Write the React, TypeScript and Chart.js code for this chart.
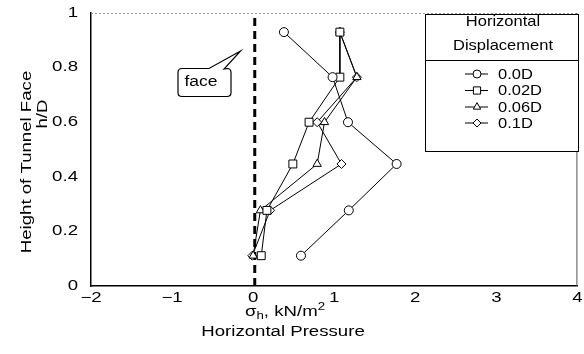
import React, { useEffect, useRef } from 'react';
import { Chart, registerables } from 'chart.js';

Chart.register(...registerables);

// ---- data ----
const hLevels = [0.93, 0.765, 0.6, 0.447, 0.277, 0.111];
const disp00 = [0.38, 0.98, 1.17, 1.77, 1.18, 0.59];
const disp002 = [1.07, 1.07, 0.69, 0.49, 0.17, 0.1];
const disp006 = [1.07, 1.28, 0.88, 0.79, 0.09, 0.0];
const disp01 = [1.07, 1.28, 0.79, 1.09, 0.21, -0.01];
const seriesLabels = ['0.0D', '0.02D', '0.06D', '0.1D'];
const seriesStyles = ['circle', 'rect', 'triangle', 'rectRot'];
const seriesRadius = [4.5, 5.6, 4.8, 4.5];
const faceX = [0.02, 0.02];
const faceY = [0, 1];
const xTickValues = [-2, -1, 0, 1, 2, 3, 4];
const yTickValues = [0, 0.2, 0.4, 0.6, 0.8, 1];
const legendTitle = ['Horizontal', 'Displacement'];
const yTitle = ['Height of Tunnel Face', 'h/D'];
const xTitle2 = 'Horizontal Pressure';
const calloutText = 'face';

const FONT = "'Liberation Sans', Arial, Helvetica, sans-serif";
const SX = 1.33;

function txt(ctx: CanvasRenderingContext2D, s: string, x: number, y: number, size: number, align: CanvasTextAlign, sx = SX) {
  ctx.save();
  ctx.translate(x, y);
  ctx.scale(sx, 1);
  ctx.font = `${size}px ${FONT}`;
  ctx.fillStyle = '#000';
  ctx.textAlign = align;
  ctx.textBaseline = 'middle';
  ctx.fillText(s, 0, 0);
  ctx.restore();
}

function vtxt(ctx: CanvasRenderingContext2D, s: string, x: number, y: number, size: number, sx = SX) {
  ctx.save();
  ctx.translate(x, y);
  ctx.rotate(-Math.PI / 2);
  ctx.scale(sx, 1);
  ctx.font = `${size}px ${FONT}`;
  ctx.fillStyle = '#000';
  ctx.textAlign = 'center';
  ctx.textBaseline = 'middle';
  ctx.fillText(s, 0, 0);
  ctx.restore();
}

function marker(ctx: CanvasRenderingContext2D, style: string, x: number, y: number, r: number) {
  ctx.save();
  ctx.beginPath();
  if (style === 'circle') {
    ctx.arc(x, y, r, 0, Math.PI * 2);
  } else if (style === 'rect') {
    const s = r * Math.SQRT1_2;
    ctx.rect(x - s, y - s, 2 * s, 2 * s);
  } else if (style === 'triangle') {
    ctx.moveTo(x, y - r);
    ctx.lineTo(x + r * 0.866, y + r * 0.5);
    ctx.lineTo(x - r * 0.866, y + r * 0.5);
    ctx.closePath();
  } else {
    ctx.moveTo(x, y - r);
    ctx.lineTo(x + r, y);
    ctx.lineTo(x, y + r);
    ctx.lineTo(x - r, y);
    ctx.closePath();
  }
  ctx.fillStyle = '#fff';
  ctx.fill();
  ctx.strokeStyle = '#000';
  ctx.lineWidth = 1;
  ctx.stroke();
  ctx.restore();
}

const decorPlugin = {
  id: 'decor',
  beforeDatasetsDraw(chart: any) {
    const ctx: CanvasRenderingContext2D = chart.ctx;
    const { left, right, top, bottom } = chart.chartArea;
    ctx.save();
    // faint top / right frame
    ctx.strokeStyle = '#9a9a9a';
    ctx.lineWidth = 1;
    ctx.setLineDash([2, 2]);
    ctx.beginPath();
    ctx.moveTo(left, top + 0.5);
    ctx.lineTo(right, top + 0.5);
    ctx.stroke();
    ctx.setLineDash([]);
    ctx.strokeStyle = '#555';
    ctx.beginPath();
    ctx.moveTo(right - 0.5, top);
    ctx.lineTo(right - 0.5, bottom);
    ctx.stroke();
    ctx.restore();
  },
  afterDraw(chart: any) {
    const ctx: CanvasRenderingContext2D = chart.ctx;
    const xs = chart.scales.x;
    const ys = chart.scales.y;
    // tick labels
    xs.ticks.forEach((t: any) => {
      const v = t.value;
      const s = v < 0 ? '\u2212' + Math.abs(v) : String(v);
      txt(ctx, s, xs.getPixelForValue(v), 298, 14, 'center');
    });
    ys.ticks.forEach((t: any) => {
      const v = t.value;
      const s = String(Math.round(v * 10) / 10);
      txt(ctx, s, 78, ys.getPixelForValue(v), 14, 'right');
    });
    // y title
    vtxt(ctx, yTitle[0], 27, 162, 14);
    vtxt(ctx, yTitle[1], 43, 114, 14);
    // x title line 1 : sigma_h, kN/m^2
    const pieces: [string, number, number][] = [
      ['\u03C3', 14, 0],
      ['h', 10, 4],
      [', kN/m', 14, 0],
      ['2', 10, -5],
    ];
    let total = 0;
    ctx.save();
    const widths = pieces.map(([s, size]) => {
      ctx.font = `${size}px ${FONT}`;
      const w = ctx.measureText(s).width * SX;
      total += w;
      return w;
    });
    ctx.restore();
    let cx = 285 - total / 2;
    pieces.forEach(([s, size, dy], i) => {
      txt(ctx, s, cx, 312 + dy, size, 'left');
      cx += widths[i];
    });
    txt(ctx, xTitle2, 283, 332, 14, 'center');

    // callout "face"
    ctx.save();
    ctx.fillStyle = '#fff';
    ctx.strokeStyle = '#000';
    ctx.lineWidth = 1.2;
    const bx = 178, by = 68.5, bw = 53, bh = 28, rr = 4;
    ctx.beginPath();
    ctx.moveTo(bx + rr, by);
    ctx.lineTo(209, by);
    ctx.lineTo(240.5, 51);
    ctx.lineTo(224, by + 0.5);
    ctx.lineTo(bx + bw - rr, by);
    ctx.quadraticCurveTo(bx + bw, by, bx + bw, by + rr);
    ctx.lineTo(bx + bw, by + bh - rr);
    ctx.quadraticCurveTo(bx + bw, by + bh, bx + bw - rr, by + bh);
    ctx.lineTo(bx + rr, by + bh);
    ctx.quadraticCurveTo(bx, by + bh, bx, by + bh - rr);
    ctx.lineTo(bx, by + rr);
    ctx.quadraticCurveTo(bx, by, bx + rr, by);
    ctx.closePath();
    ctx.fill();
    ctx.stroke();
    ctx.restore();
    txt(ctx, calloutText, 201, 82, 14, 'center', 1.25);

    // legend
    ctx.save();
    ctx.fillStyle = '#fff';
    ctx.fillRect(425, 14, 154, 138);
    ctx.strokeStyle = '#000';
    ctx.lineWidth = 1;
    ctx.strokeRect(425.5, 14.5, 153, 46);
    ctx.strokeRect(425.5, 60.5, 153, 91);
    ctx.restore();
    txt(ctx, legendTitle[0], 503, 22, 15, 'center', 1.1);
    txt(ctx, legendTitle[1], 503, 46, 15, 'center', 1.1);
    const rowY = [74, 90.5, 107, 123];
    seriesLabels.forEach((lab, i) => {
      const y = rowY[i];
      ctx.save();
      ctx.strokeStyle = '#000';
      ctx.lineWidth = 1;
      ctx.beginPath();
      ctx.moveTo(465, y);
      ctx.lineTo(488, y);
      ctx.stroke();
      ctx.restore();
      marker(ctx, seriesStyles[i], 477, y, seriesRadius[i] - 0.5);
      txt(ctx, lab, 498, y + 0.5, 15, 'left', 1.1);
    });
  },
};

export default function App() {
  const ref = useRef<HTMLCanvasElement | null>(null);
  useEffect(() => {
    if (!ref.current) return;
    const seriesX = [disp00, disp002, disp006, disp01];
    const datasets: any[] = seriesX.map((xs, i) => ({
      label: seriesLabels[i],
      data: hLevels.map((h, j) => ({ x: xs[j], y: h })),
      showLine: true,
      borderColor: '#000',
      borderWidth: 1,
      backgroundColor: '#fff',
      pointStyle: seriesStyles[i],
      pointRadius: seriesRadius[i],
      pointBorderWidth: 1,
      pointBorderColor: '#000',
      pointBackgroundColor: '#fff',
      tension: 0,
    }));
    datasets.push({
      label: 'face',
      data: faceY.map((y, j) => ({ x: faceX[j], y })),
      showLine: true,
      borderColor: '#000',
      borderWidth: 3,
      borderDash: [8, 5],
      pointRadius: 0,
    });
    const chart = new Chart(ref.current, {
      type: 'scatter',
      data: { datasets },
      options: {
        animation: false,
        responsive: true,
        maintainAspectRatio: false,
        layout: { padding: { left: 91, right: 6, top: 13, bottom: 68 } },
        plugins: { legend: { display: false }, tooltip: { enabled: false } },
        scales: {
          x: {
            type: 'linear',
            min: -2,
            max: 4,
            afterBuildTicks: (s: any) => {
              s.ticks = xTickValues.map((v) => ({ value: v }));
            },
            ticks: { display: false },
            grid: { display: false, drawTicks: false },
            border: { display: true, color: '#000', width: 1.5 },
          },
          y: {
            type: 'linear',
            min: 0,
            max: 1,
            afterBuildTicks: (s: any) => {
              s.ticks = yTickValues.map((v) => ({ value: v }));
            },
            ticks: { display: false },
            grid: { display: false, drawTicks: false },
            border: { display: true, color: '#000', width: 1.5 },
          },
        },
      },
      plugins: [decorPlugin],
    });
    return () => chart.destroy();
  }, []);
  return (
    <div style={{ position: 'absolute', left: 0, top: 0, width: 584, height: 354, background: '#fff' }}>
      <canvas ref={ref} />
    </div>
  );
}
